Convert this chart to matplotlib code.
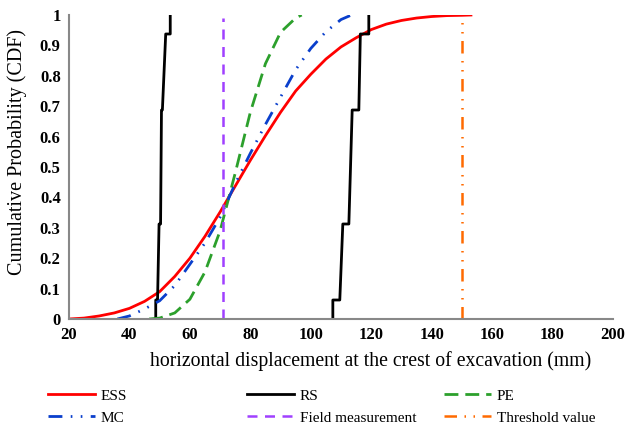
import matplotlib.pyplot as plt

plt.rcParams['font.family'] = ['Liberation Serif', 'DejaVu Serif']

# ESS curve
ess_x = [20, 25, 30, 35, 40, 45, 50, 55, 60, 65, 70, 75, 80, 85, 90, 95,
         100, 105, 110, 115, 120, 125, 130, 135, 140, 145, 150, 153]
ess_y = [0.0, 0.003, 0.01, 0.02, 0.035, 0.058, 0.09, 0.14, 0.2, 0.272,
         0.352, 0.437, 0.522, 0.603, 0.68, 0.75, 0.805, 0.855, 0.895, 0.925,
         0.952, 0.97, 0.982, 0.99, 0.995, 0.998, 0.999, 1.0]

# RS, two empirical steps
rs1_x = [48.7, 48.7, 49.3, 49.8, 50.3, 50.6, 50.9, 52.0, 53.5, 53.5]
rs1_y = [0.0, 0.0625, 0.0625, 0.3125, 0.3125, 0.6875, 0.6875, 0.9375, 0.9375, 1.0]
rs2_x = [107.3, 107.3, 109.6, 110.6, 112.6, 113.7, 115.9, 116.4, 119.2, 119.2]
rs2_y = [0.0, 0.0625, 0.0625, 0.3125, 0.3125, 0.6875, 0.6875, 0.9375, 0.9375, 1.0]

# PE
pe_x = [46.5, 50, 55, 60, 65, 70, 75, 80, 85, 90, 95, 97]
pe_y = [0.0, 0.003, 0.02, 0.065, 0.155, 0.29, 0.48, 0.68, 0.84, 0.943, 0.99, 1.0]

# MC
mc_x = [36, 40, 45, 50, 55, 60, 65, 70, 75, 80, 85, 90, 95, 100, 105, 110, 113]
mc_y = [0.0, 0.01, 0.033, 0.06, 0.11, 0.18, 0.25, 0.335, 0.445, 0.545, 0.64,
        0.73, 0.82, 0.89, 0.945, 0.985, 0.998]

field_value = 70.8
threshold_value = 150

fig = plt.figure(figsize=(6.27, 4.29), dpi=100)
ax = fig.add_axes([69 / 627, 1 - 319 / 429, (613 - 69) / 627, (319 - 15) / 429])

ax.plot(ess_x, ess_y, color='#FF0000', lw=2, label='ESS')
ax.plot(rs1_x, rs1_y, color='black', lw=2, label='RS')
ax.plot(rs2_x, rs2_y, color='black', lw=2)
ax.plot(pe_x, pe_y, color='#2CA02C', lw=2, dashes=(5, 2.5), label='PE')
ax.plot(mc_x, mc_y, color='#0A3FCC', lw=2, dashes=(5, 3, 0.6, 3, 0.6, 3), label='MC')
ax.plot([field_value, field_value], [0, 0.99], color='#A040FF', lw=1.8,
        dashes=(4, 3), label='Field measurement')
ax.plot([threshold_value, threshold_value], [0, 0.99], color='#FF6A00', lw=1.8,
        dashes=(5, 3, 0.6, 3, 0.6, 3), label='Threshold value')

ax.set_xlim(20, 200)
ax.set_ylim(0, 1)
ax.set_xticks(range(20, 201, 20))
ax.set_yticks([i / 10 for i in range(11)])
ax.set_yticklabels(['0', '0.1', '0.2', '0.3', '0.4', '0.5', '0.6', '0.7', '0.8', '0.9', '1'])
ax.tick_params(length=0, labelsize=12, pad=6)
for t in ax.get_xticklabels() + ax.get_yticklabels():
    t.set_fontweight('bold')
for s in ['top', 'right']:
    ax.spines[s].set_visible(False)
for s in ['left', 'bottom']:
    ax.spines[s].set_color('#888888')
    ax.spines[s].set_linewidth(1.5)

ax.set_xlabel('horizontal displacement at the crest of excavation (mm)', fontsize=14.2)
ax.set_ylabel('Cumulative Probability (CDF)', fontsize=14.5)
ax.xaxis.set_label_coords(0.555, -0.105)
ax.yaxis.set_label_coords(-0.078, 0.55)

h, l = ax.get_legend_handles_labels()
d = dict(zip(l, h))
cols = [(['ESS', 'MC'], 48), (['RS', 'Field measurement'], 247), (['PE', 'Threshold value'], 444)]
for names, xpx in cols:
    fig.legend([d[n] for n in names], names, loc='upper left',
               bbox_to_anchor=(xpx / 627, 1 - 389 / 429), frameon=False,
               fontsize=11, borderpad=0, borderaxespad=0, handlelength=3.1,
               handletextpad=0.35, labelspacing=0.55)

fig.savefig('out.png', dpi=100)
